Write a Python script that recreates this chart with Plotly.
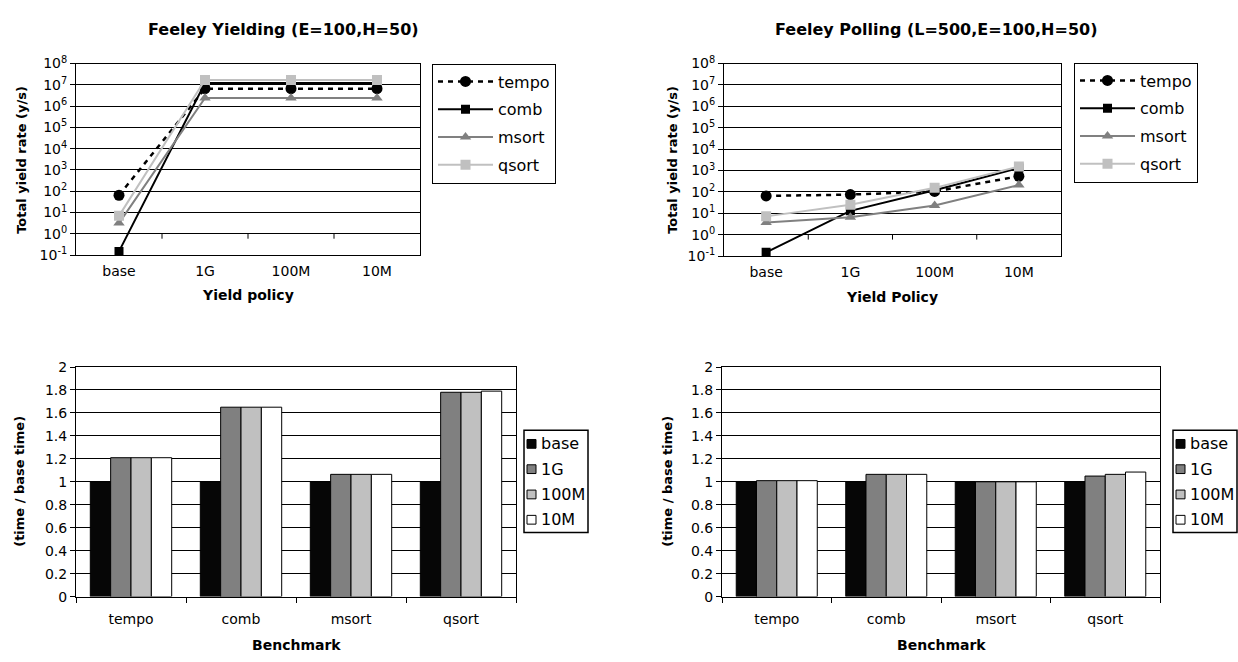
import plotly.graph_objects as go

# ---------------- data ----------------
policies = ["base", "1G", "100M", "10M"]
benchmarks = ["tempo", "comb", "msort", "qsort"]

# Feeley Yielding (E=100,H=50): total yield rate (y/s)
yielding_tempo = [65, 6.6e6, 6.6e6, 6.6e6]
yielding_comb = [0.15, 1.2e7, 1.2e7, 1.2e7]
yielding_msort = [3.2, 2.4e6, 2.4e6, 2.4e6]
yielding_qsort = [7.0, 1.7e7, 1.7e7, 1.7e7]

# Feeley Polling (L=500,E=100,H=50): total yield rate (y/s)
polling_tempo = [65, 75, 105, 540]
polling_comb = [0.15, 13, 120, 1300]
polling_msort = [3.7, 6.5, 23, 210]
polling_qsort = [7.2, 25, 155, 1550]

# time / base time, yielding (per benchmark)
yield_time_base = [1.0, 1.0, 1.0, 1.0]
yield_time_1g = [1.21, 1.65, 1.065, 1.78]
yield_time_100m = [1.21, 1.65, 1.065, 1.78]
yield_time_10m = [1.21, 1.65, 1.065, 1.79]

# time / base time, polling (per benchmark)
poll_time_base = [1.0, 1.0, 1.0, 1.0]
poll_time_1g = [1.01, 1.065, 1.0, 1.05]
poll_time_100m = [1.01, 1.065, 1.0, 1.065]
poll_time_10m = [1.01, 1.065, 1.0, 1.085]

log_tickvals = [10.0 ** e for e in range(-1, 9)]
log_ticktext = ["10<sup>%d</sup>" % e for e in range(-1, 9)]
bar_tickvals = [0, 0.2, 0.4, 0.6, 0.8, 1, 1.2, 1.4, 1.6, 1.8, 2]
bar_ticktext = ["0", "0.2", "0.4", "0.6", "0.8", "1", "1.2", "1.4", "1.6", "1.8", "2"]

# ---------------- layout helpers ----------------
W, H = 1238, 662
FONT = "'DejaVu Sans', Arial, sans-serif"


def px_x(p):
    return p / W


def px_y(p):
    return 1 - p / H


fig = go.Figure()

line_styles = {
    "tempo": dict(line=dict(color="#000000", width=2.5, dash="5px,5px"),
                  marker=dict(symbol="circle", size=11, color="#000000")),
    "comb": dict(line=dict(color="#000000", width=2),
                 marker=dict(symbol="square", size=9, color="#000000")),
    "msort": dict(line=dict(color="#808080", width=2),
                  marker=dict(symbol="triangle-up", size=10, color="#808080")),
    "qsort": dict(line=dict(color="#c0c0c0", width=2),
                  marker=dict(symbol="square", size=10, color="#c0c0c0")),
}

yielding = {"tempo": yielding_tempo, "comb": yielding_comb,
            "msort": yielding_msort, "qsort": yielding_qsort}
polling = {"tempo": polling_tempo, "comb": polling_comb,
           "msort": polling_msort, "qsort": polling_qsort}

for name in benchmarks:
    fig.add_trace(go.Scatter(x=policies, y=yielding[name], name=name, mode="lines+markers",
                             xaxis="x", yaxis="y", legend="legend", legendgroup="a" + name,
                             **line_styles[name]))
for name in benchmarks:
    fig.add_trace(go.Scatter(x=policies, y=polling[name], name=name, mode="lines+markers",
                             xaxis="x2", yaxis="y2", legend="legend2", legendgroup="b" + name,
                             **line_styles[name]))

bar_colors = {"base": "#060606", "1G": "#808080", "100M": "#c0c0c0", "10M": "#ffffff"}
yield_times = {"base": yield_time_base, "1G": yield_time_1g,
               "100M": yield_time_100m, "10M": yield_time_10m}
poll_times = {"base": poll_time_base, "1G": poll_time_1g,
              "100M": poll_time_100m, "10M": poll_time_10m}

for p in policies:
    fig.add_trace(go.Bar(x=benchmarks, y=yield_times[p], name=p, xaxis="x3", yaxis="y3",
                         showlegend=False,
                         marker=dict(color=bar_colors[p], line=dict(color="#000000", width=1))))
for p in policies:
    fig.add_trace(go.Bar(x=benchmarks, y=poll_times[p], name=p, xaxis="x4", yaxis="y4",
                         showlegend=False,
                         marker=dict(color=bar_colors[p], line=dict(color="#000000", width=1))))

# plot areas (pixels)
areas = {
    "1": (76, 420, 55, 252),
    "2": (724, 1061, 55, 253),
    "3": (76, 516, 367, 603),
    "4": (722, 1160, 367, 603),
}

axis_common = dict(showline=True, linecolor="#000000", linewidth=1, mirror=True,
                   tickfont=dict(family=FONT, size=14, color="#000000"))

layout = dict(
    width=W, height=H, margin=dict(l=0, r=0, t=0, b=0),
    paper_bgcolor="#ffffff", plot_bgcolor="#ffffff",
    font=dict(family=FONT, color="#000000"),
    barmode="group", bargap=0.26, bargroupgap=0,
    showlegend=True,
)

for k, (x0, x1, y0, y1) in areas.items():
    xa = "xaxis" if k == "1" else "xaxis" + k
    ya = "yaxis" if k == "1" else "yaxis" + k
    layout[xa] = dict(domain=[px_x(x0), px_x(x1)], anchor="y" if k == "1" else "y" + k,
                      showgrid=False, zeroline=False, **axis_common)
    layout[ya] = dict(domain=[px_y(y1), px_y(y0)], anchor="x" if k == "1" else "x" + k,
                      showgrid=True, gridcolor="#000000", gridwidth=1, zeroline=False,
                      ticks="outside", ticklen=5, tickcolor="#000000", **axis_common)

for k in ("1", "2"):
    xa = "xaxis" if k == "1" else "xaxis" + k
    ya = "yaxis" if k == "1" else "yaxis" + k
    layout[xa].update(type="category", range=[-0.5, len(policies) - 0.5], ticks="",
                      ticklabelstandoff=3)
    layout[ya].update(type="log", range=[-1, 8], tickvals=log_tickvals, ticktext=log_ticktext)

for k in ("3", "4"):
    xa = "xaxis" + k
    ya = "yaxis" + k
    layout[xa].update(type="category", range=[-0.5, len(benchmarks) - 0.5], ticks="outside",
                      tickson="boundaries", ticklen=5, tickcolor="#000000",
                      ticklabelstandoff=10)
    layout[ya].update(range=[0, 2], tickvals=bar_tickvals, ticktext=bar_ticktext)

legend_common = dict(bordercolor="#000000", borderwidth=1, bgcolor="#ffffff",
                     xanchor="left", yanchor="top", traceorder="grouped",
                     font=dict(family=FONT, size=16, color="#000000"))
layout["legend"] = dict(x=px_x(432), y=px_y(55), tracegroupgap=4, itemwidth=55, **legend_common)
layout["legend2"] = dict(x=px_x(1074), y=px_y(54), tracegroupgap=4, itemwidth=55, **legend_common)

fig.update_layout(**layout)

# category-boundary tick marks where the category axis crosses at 10^0 (log charts)
for xr, yr in (("x", "y domain"), ("x2", "y2 domain")):
    for i in range(len(policies) - 1):
        fig.add_shape(type="line", xref=xr, yref=yr, x0=i + 0.5, x1=i + 0.5,
                      y0=1 / 9, y1=1 / 9 - 5 / 197, line=dict(color="#000000", width=1))

ann = []

# legends for the bar charts (box, swatches, labels)
for bx in (524, 1173):
    by0, by1 = 432, 537
    fig.add_shape(type="rect", xref="paper", yref="paper",
                  x0=px_x(bx), x1=px_x(bx + 64), y0=px_y(by1), y1=px_y(by0),
                  line=dict(color="#000000", width=1.5), fillcolor="#ffffff", layer="above")
    for i, p in enumerate(policies):
        cy = by0 + 14 + 26 * i
        fig.add_shape(type="rect", xref="paper", yref="paper",
                      x0=px_x(bx + 3), x1=px_x(bx + 12), y0=px_y(cy + 4.5), y1=px_y(cy - 4.5),
                      line=dict(color="#000000", width=1), fillcolor=bar_colors[p], layer="above")
        ann.append(dict(text=p, x=px_x(bx + 15), y=px_y(cy), xref="paper", yref="paper",
                        showarrow=False, xanchor="left", yanchor="middle",
                        font=dict(family=FONT, size=16, color="#000000")))

# titles
title_font = dict(family=FONT, size=16, color="#000000")
axis_title_font = dict(family=FONT, size=13, color="#000000")
for text, x, y in (("<b>Feeley Yielding (E=100,H=50)</b>", 283, 20),
                   ("<b>Feeley Polling (L=500,E=100,H=50)</b>", 936, 20)):
    ann.append(dict(text=text, x=px_x(x), y=px_y(y), xref="paper", yref="paper",
                    showarrow=False, xanchor="center", yanchor="middle", font=title_font))
for text, x, y in (("<b>Yield policy</b>", 248, 293), ("<b>Yield Policy</b>", 892, 295),
                   ("<b>Benchmark</b>", 296, 653), ("<b>Benchmark</b>", 941, 653)):
    ann.append(dict(text=text, x=px_x(x), y=px_y(y), xref="paper", yref="paper",
                    showarrow=False, xanchor="center", yanchor="middle",
                    font=dict(family=FONT, size=14, color="#000000")))
for text, x, y in (("<b>Total yield rate (y/s)</b>", 22, 154),
                   ("<b>Total yield rate (y/s)</b>", 673, 154),
                   ("<b>(time / base time)</b>", 20, 485),
                   ("<b>(time / base time)</b>", 668, 485)):
    ann.append(dict(text=text, x=px_x(x), y=px_y(y), xref="paper", yref="paper",
                    showarrow=False, xanchor="center", yanchor="middle", textangle=-90,
                    font=axis_title_font))
fig.update_layout(annotations=ann)

fig.write_html(
    "out.html",
    config={"displayModeBar": False},
    post_script="document.body.style.margin='0px';document.body.style.overflow='hidden';",
)
